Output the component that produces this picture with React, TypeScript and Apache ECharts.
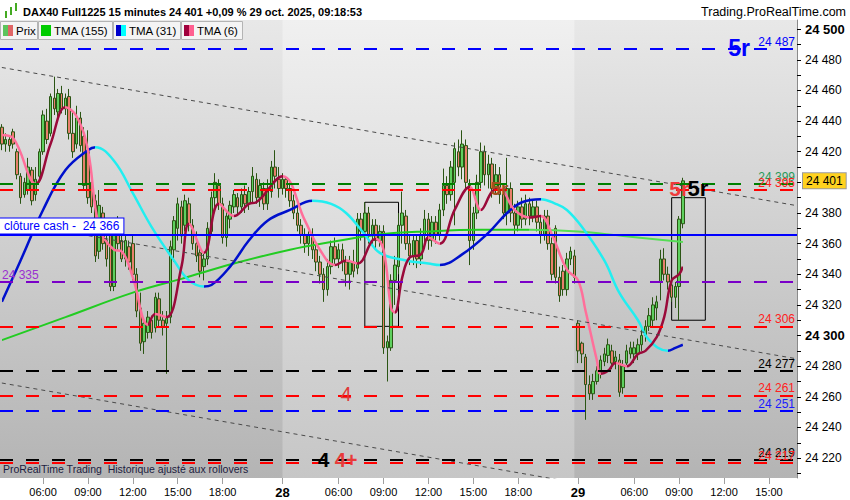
import { useEffect, useRef } from "react";
import * as echarts from "echarts";

// trading sessions (15 min bars)
const sessions = [
  { day: "27", open: "03:15", close: "21:45" },
  { day: "28", open: "02:15", close: "21:45" },
  { day: "29", open: "02:15", close: "16:45" },
];
const timeTicks = ["06:00", "09:00", "12:00", "15:00", "18:00"];

// [open, close, low, high]
const day27 = [
  [24436, 24425, 24421, 24438], [24425, 24428, 24420, 24432], [24428, 24424, 24420, 24430],
  [24433, 24425, 24422, 24435], [24420, 24405, 24402, 24422], [24404, 24390, 24386, 24406],
  [24392, 24400, 24390, 24403], [24395, 24410, 24392, 24416], [24408, 24388, 24385, 24410],
  [24392, 24402, 24388, 24410], [24404, 24420, 24400, 24422], [24420, 24444, 24418, 24447],
  [24440, 24428, 24425, 24448], [24432, 24456, 24430, 24458], [24455, 24448, 24444, 24469],
  [24446, 24458, 24442, 24461], [24458, 24448, 24445, 24463], [24448, 24455, 24444, 24458],
  [24456, 24432, 24428, 24461], [24432, 24420, 24416, 24447], [24425, 24442, 24422, 24450],
  [24442, 24424, 24420, 24446], [24430, 24398, 24395, 24436], [24420, 24390, 24386, 24434],
  [24400, 24384, 24380, 24405], [24388, 24352, 24348, 24392], [24355, 24385, 24350, 24395],
  [24380, 24360, 24356, 24384], [24362, 24350, 24345, 24375], [24368, 24332, 24329, 24372],
  [24332, 24370, 24329, 24373], [24372, 24360, 24356, 24378], [24362, 24350, 24348, 24368],
  [24350, 24362, 24345, 24366], [24358, 24348, 24343, 24362], [24360, 24340, 24336, 24366],
  [24340, 24316, 24312, 24344], [24318, 24295, 24290, 24328], [24296, 24308, 24288, 24312],
  [24302, 24312, 24298, 24316], [24310, 24302, 24298, 24313], [24305, 24325, 24302, 24328],
  [24324, 24310, 24305, 24328], [24310, 24306, 24300, 24316], [24308, 24312, 24275, 24316],
  [24312, 24358, 24308, 24362], [24356, 24375, 24348, 24378], [24370, 24386, 24362, 24390],
  [24384, 24365, 24360, 24388], [24372, 24388, 24368, 24392], [24386, 24372, 24368, 24390],
  [24372, 24360, 24356, 24376], [24360, 24352, 24348, 24368], [24354, 24342, 24338, 24358],
  [24345, 24350, 24336, 24354], [24350, 24370, 24346, 24374], [24368, 24390, 24365, 24394],
  [24390, 24400, 24382, 24406], [24398, 24386, 24382, 24402], [24386, 24364, 24360, 24390],
  [24364, 24378, 24358, 24382], [24376, 24385, 24370, 24388], [24384, 24392, 24380, 24395],
  [24390, 24384, 24378, 24393], [24384, 24392, 24380, 24396], [24392, 24386, 24380, 24398],
  [24386, 24394, 24382, 24397], [24394, 24404, 24386, 24410], [24402, 24390, 24386, 24406],
  [24390, 24398, 24384, 24402], [24396, 24386, 24382, 24400], [24386, 24396, 24382, 24402],
  [24394, 24410, 24390, 24414], [24410, 24404, 24396, 24421], [24402, 24396, 24390, 24410],
];

const day28 = [
  [24396, 24402, 24392, 24406], [24402, 24396, 24390, 24404], [24396, 24388, 24384, 24400],
  [24388, 24380, 24376, 24392], [24380, 24372, 24368, 24384], [24372, 24366, 24360, 24376],
  [24366, 24360, 24354, 24370], [24360, 24366, 24352, 24368], [24366, 24356, 24350, 24370],
  [24356, 24348, 24342, 24360], [24348, 24340, 24334, 24352], [24340, 24330, 24322, 24344],
  [24330, 24345, 24326, 24350], [24345, 24358, 24340, 24362], [24358, 24350, 24346, 24364],
  [24350, 24356, 24344, 24360], [24356, 24348, 24342, 24360], [24348, 24340, 24332, 24352],
  [24340, 24348, 24330, 24352], [24348, 24342, 24338, 24356], [24344, 24376, 24340, 24380],
  [24376, 24368, 24362, 24380], [24368, 24380, 24364, 24387], [24380, 24366, 24360, 24384],
  [24366, 24372, 24358, 24376], [24372, 24362, 24356, 24376], [24362, 24368, 24358, 24372],
  [24368, 24292, 24288, 24372], [24292, 24296, 24270, 24300], [24292, 24336, 24290, 24340],
  [24336, 24346, 24320, 24352], [24345, 24372, 24340, 24380], [24372, 24380, 24360, 24394],
  [24378, 24360, 24356, 24382], [24360, 24352, 24346, 24366], [24352, 24362, 24346, 24366],
  [24362, 24350, 24344, 24366], [24350, 24366, 24346, 24370], [24366, 24376, 24360, 24382],
  [24376, 24362, 24356, 24380], [24362, 24374, 24358, 24378], [24374, 24366, 24360, 24378],
  [24366, 24382, 24362, 24386], [24382, 24398, 24378, 24409], [24398, 24392, 24386, 24404],
  [24392, 24410, 24388, 24414], [24400, 24422, 24372, 24426], [24420, 24410, 24404, 24428],
  [24410, 24425, 24402, 24434], [24424, 24400, 24396, 24428], [24398, 24362, 24346, 24402],
  [24362, 24380, 24356, 24384], [24380, 24400, 24376, 24405], [24400, 24420, 24396, 24426],
  [24420, 24405, 24398, 24424], [24405, 24412, 24396, 24418], [24412, 24396, 24390, 24416],
  [24396, 24405, 24392, 24412], [24405, 24392, 24386, 24410], [24392, 24380, 24376, 24396],
  [24380, 24396, 24372, 24416], [24396, 24380, 24374, 24400], [24380, 24372, 24366, 24386],
  [24372, 24384, 24368, 24388], [24384, 24376, 24370, 24390], [24376, 24386, 24372, 24392],
  [24386, 24378, 24372, 24390], [24378, 24384, 24374, 24388], [24384, 24374, 24368, 24388],
  [24374, 24366, 24360, 24378], [24366, 24378, 24362, 24382], [24378, 24360, 24356, 24382],
  [24360, 24340, 24336, 24364], [24370, 24338, 24334, 24372], [24338, 24326, 24322, 24345],
  [24342, 24330, 24326, 24346], [24330, 24350, 24326, 24354], [24350, 24355, 24346, 24358],
  [24352, 24338, 24334, 24356],
];

const day29 = [
  [24308, 24290, 24282, 24310], [24295, 24288, 24282, 24296], [24286, 24268, 24245, 24288],
  [24268, 24262, 24258, 24274], [24262, 24270, 24258, 24275], [24270, 24277, 24268, 24280],
  [24276, 24284, 24272, 24287], [24283, 24288, 24280, 24292], [24287, 24294, 24282, 24298],
  [24290, 24282, 24278, 24294], [24283, 24286, 24278, 24290], [24284, 24263, 24260, 24288],
  [24266, 24280, 24262, 24284], [24282, 24290, 24280, 24294], [24288, 24292, 24285, 24296],
  [24288, 24292, 24282, 24296], [24288, 24294, 24284, 24298], [24294, 24300, 24290, 24304],
  [24300, 24306, 24296, 24310], [24306, 24313, 24303, 24318], [24310, 24320, 24306, 24325],
  [24318, 24322, 24310, 24326], [24335, 24350, 24323, 24356], [24350, 24340, 24336, 24357],
  [24340, 24335, 24330, 24345], [24333, 24325, 24322, 24336], [24325, 24332, 24318, 24335],
  [24332, 24376, 24310, 24378], [24373, 24401, 24370, 24403],
];

// moving averages, [bar index, value]
const tma155 = [
  [0, 24297], [17, 24312], [35, 24328], [48, 24337], [62, 24347], [77, 24356], [88, 24361],
  [101, 24366], [114, 24368], [128, 24369], [141, 24369], [154, 24368], [166, 24365], [182, 24361],
];
const tma31 = [
  [0, 24322], [5, 24349], [11, 24382], [17, 24408], [23, 24421], [25, 24423], [30, 24414],
  [35, 24393], [40, 24371], [46, 24349], [50, 24336], [54, 24332], [56, 24333], [61, 24345],
  [66, 24362], [71, 24375], [77, 24382], [83, 24388], [88, 24386], [92, 24380], [97, 24366],
  [101, 24354], [108, 24349], [114, 24347], [117, 24346], [123, 24353], [130, 24367], [135, 24380],
  [139, 24387], [144, 24389], [148, 24386], [151, 24382], [155, 24371], [161, 24349], [165, 24328],
  [170, 24310], [173, 24297], [178, 24290], [180, 24292], [182, 24294],
];
const tma6 = [
  [0, 24431], [3, 24429], [9, 24399], [13, 24425], [17, 24449], [20, 24443], [23, 24421],
  [26, 24371], [30, 24356], [32, 24355], [35, 24338], [39, 24307], [41, 24314], [44, 24312],
  [48, 24345], [50, 24373], [54, 24354], [58, 24386], [62, 24378], [66, 24386], [68, 24387],
  [75, 24404], [81, 24375], [85, 24356], [89, 24346], [92, 24349], [95, 24347], [99, 24362],
  [100, 24363], [102, 24356], [104, 24318], [105, 24315], [107, 24338], [109, 24351], [112, 24353],
  [114, 24364], [117, 24360], [121, 24382], [125, 24397], [128, 24382], [131, 24394], [133, 24396],
  [137, 24382], [141, 24377], [144, 24378], [147, 24366], [151, 24343], [154, 24336], [156, 24316],
  [159, 24284], [160, 24275], [162, 24277], [164, 24282], [167, 24280], [170, 24288], [172, 24290],
  [175, 24299], [177, 24312], [179, 24336], [181, 24340], [182, 24345],
];

// horizontal levels
const levelValues = [24487, 24399, 24395, 24335, 24306, 24277, 24261, 24251, 24219, 24217];
const cashClose = 24366;
const lastPrice = 24401;

// dotted channel: value at first bar, value at last slot
const channelLines = [
  [24475, 24385],
  [24375, 24285],
  [24269, 24179],
];

// rectangles: [bar from, top, bar to, bottom]
const boxes = [
  [97, 24387, 106, 24306],
  [179, 24390, 188, 24310],
];

// wave tags: [text, bar index, price]
const waveTags: [string, number, number][] = [
  ["5r", 197, 24488],
  ["5r", 133, 24396],
  ["5r", 181, 24396],
  ["5r", 186, 24396],
  ["4", 92, 24262],
  ["4", 86, 24219],
  ["4+", 92, 24219],
];

const priceLabels = [24220, 24240, 24260, 24280, 24300, 24320, 24340, 24360, 24380, 24420, 24440, 24460, 24480, 24500];

const FONT = "'Liberation Sans', Arial, sans-serif";

const fmtPrice = (v: number) =>
  `${Math.floor(v / 1000)} ${String(Math.round(v) % 1000).padStart(3, "0")}`;

const toMin = (s: string) => {
  const [h, m] = s.split(":").map(Number);
  return h * 60 + m;
};
const hhmm = (m: number) =>
  `${String(Math.floor(m / 60)).padStart(2, "0")}:${String(m % 60).padStart(2, "0")}`;

const slotLabels: string[] = [];
const dayStart = new Map<number, string>();
sessions.forEach((s, k) => {
  if (k > 0) dayStart.set(slotLabels.length, s.day);
  for (let m = toMin(s.open); m <= toMin(s.close); m += 15) slotLabels.push(hhmm(m));
});
const labelAt = (i: number) => dayStart.has(i) || timeTicks.includes(slotLabels[i]);

const slopePieces = (pts: number[][], up: string, down: string) =>
  pts.slice(1).map((p, i) => {
    const prev = pts[i];
    const color = p[1] >= prev[1] ? up : down;
    return i === pts.length - 2
      ? { gte: prev[0], lte: p[0], color }
      : { gte: prev[0], lt: p[0], color };
  });

const levelColors = ["#0000ff", "#008000", "#ff0000", "#7a00c8", "#ff0000", "#000000", "#ff0000", "#0000ff", "#000000", "#ff0000"];
const levelTextColors = ["#0000ff", "#2a9a5a", "#ff2020", "#9a30d0", "#ff2020", "#000000", "#ff2020", "#1a1aff", "#000000", "#ff2020"];
const tagStyles = [
  { color: "#0000ff", fontSize: 23, fontWeight: "bold" },
  { color: "#a0521e", fontSize: 19, fontWeight: "bold" },
  { color: "#ee3a3a", fontSize: 21, fontWeight: "bold" },
  { color: "#000000", fontSize: 22, fontWeight: "bold" },
  { color: "#e03838", fontSize: 20, fontWeight: "normal" },
  { color: "#000000", fontSize: 21, fontWeight: "bold" },
  { color: "#e83a3a", fontSize: 20, fontWeight: "bold" },
];

const legendBoxes = [
  { x: 0, w: 37, text: "Prix", colors: ["#5cc45c", "#e06666"] },
  { x: 38, w: 74, text: "TMA (155)", colors: ["#00cc00", "#00cc00"] },
  { x: 113, w: 67, text: "TMA (31)", colors: ["#0000cc", "#00ffff"] },
  { x: 181, w: 61, text: "TMA (6)", colors: ["#a0003c", "#ff6090"] },
];

const App = () => {
  const chartRef = useRef<HTMLDivElement>(null);

  useEffect(() => {
    if (!chartRef.current) return;
    const chart = echarts.init(chartRef.current, undefined, { renderer: "svg" });

    const candles = [...day27, ...day28, ...day29];
    const lastSlot = slotLabels.length - 1;
    const starts = [...dayStart.keys()];

    const legendGraphics = legendBoxes.map((b) => ({
      type: "group",
      children: [
        {
          type: "rect",
          shape: { x: b.x + 0.5, y: 21.5, width: b.w, height: 18 },
          style: { fill: "#f4f4f4", stroke: "#b4b4b4", lineWidth: 1 },
        },
        {
          type: "rect",
          shape: { x: b.x + 3, y: 25, width: 5, height: 11 },
          style: { fill: b.colors[0] },
        },
        {
          type: "rect",
          shape: { x: b.x + 8, y: 25, width: 5, height: 11 },
          style: { fill: b.colors[1] },
        },
        {
          type: "text",
          x: b.x + 16,
          y: 31,
          style: {
            text: b.text,
            fill: "#000",
            font: `11.5px ${FONT}`,
            verticalAlign: "middle",
          },
        },
      ],
    }));

    // one scatter series per tag, so every tag gets its own label
    const tagSeries = waveTags.map((t, i) => ({
      type: "scatter" as const,
      z: 6,
      silent: true,
      symbol: "rect",
      symbolSize: 1,
      itemStyle: { color: "rgba(0,0,0,0)", opacity: 1 },
      label: {
        show: true,
        position: "inside" as const,
        formatter: t[0],
        fontFamily: FONT,
        ...tagStyles[i],
      },
      labelLayout: { hideOverlap: false },
      data: [[t[1], t[2]]],
    }));

    const option: echarts.EChartsOption = {
      animation: false,
      textStyle: { fontFamily: FONT },
      grid: {
        left: 0,
        right: 53,
        top: 20,
        bottom: 22,
        show: true,
        borderWidth: 0,
        backgroundColor: new echarts.graphic.LinearGradient(0, 0, 0, 1, [
          { offset: 0, color: "#e8e8e8" },
          { offset: 1, color: "#b4b4b4" },
        ]) as unknown as string,
      },
      xAxis: {
        type: "category",
        data: slotLabels,
        boundaryGap: true,
        axisLine: { show: false },
        axisTick: {
          show: true,
          alignWithLabel: true,
          interval: (i: number) => labelAt(i),
          length: 6,
          lineStyle: { color: "#a0a0a0" },
        },
        axisLabel: {
          interval: (i: number) => labelAt(i),
          formatter: (v: string, i: number) =>
            dayStart.has(i) ? `{d|${dayStart.get(i)}}` : v,
          color: "#000",
          fontSize: 11,
          fontFamily: FONT,
          margin: 8,
          rich: { d: { fontWeight: "bold", fontSize: 13, fontFamily: FONT } },
        },
        splitLine: { show: false },
      },
      yAxis: {
        type: "value",
        position: "right",
        min: 24207,
        max: 24506,
        splitLine: { show: false },
        axisLine: { show: true, lineStyle: { color: "#8a8a8a" } },
        axisTick: {
          show: true,
          length: 4,
          customValues: Array.from({ length: 30 }, (_, k) => 24210 + k * 10),
          lineStyle: { color: "#000" },
        },
        axisLabel: {
          customValues: priceLabels,
          formatter: (v: number) =>
            v === 24500 || v === 24300 ? `{b|${fmtPrice(v)}}` : fmtPrice(v),
          color: "#000",
          fontSize: 12,
          fontFamily: FONT,
          rich: { b: { fontWeight: "bold", fontSize: 13, fontFamily: FONT } },
        },
      } as echarts.YAXisComponentOption,
      visualMap: [
        {
          type: "piecewise",
          show: false,
          seriesIndex: 2,
          dimension: 0,
          pieces: slopePieces(tma155, "#22cc22", "#55dd55"),
        },
        {
          type: "piecewise",
          show: false,
          seriesIndex: 3,
          dimension: 0,
          pieces: slopePieces(tma31, "#0010cc", "#22eef0"),
        },
        {
          type: "piecewise",
          show: false,
          seriesIndex: 4,
          dimension: 0,
          pieces: slopePieces(tma6, "#9a0a3a", "#ff6f9a"),
        },
      ],
      graphic: [
        // small candle icon
        { type: "rect", shape: { x: 5, y: 11, width: 2, height: 7 }, style: { fill: "#44aa22" } },
        { type: "rect", shape: { x: 10, y: 7, width: 2, height: 8 }, style: { fill: "#44aa22" } },
        { type: "rect", shape: { x: 15, y: 3, width: 2, height: 8 }, style: { fill: "#44aa22" } },
        {
          type: "text",
          x: 23,
          y: 12,
          style: {
            text: "DAX40 Full1225 15 minutes 24 401 +0,09 % 29 oct. 2025, 09:18:53",
            fill: "#000",
            font: `bold 11px ${FONT}`,
            verticalAlign: "middle",
          },
        },
        {
          type: "text",
          x: 846,
          y: 12,
          style: {
            text: "Trading.ProRealTime.com",
            fill: "#000",
            font: `12.5px ${FONT}`,
            align: "right",
            verticalAlign: "middle",
          },
        },
        ...legendGraphics,
        {
          type: "text",
          x: 3,
          y: 469,
          z: 10,
          style: {
            text: "ProRealTime Trading  Historique ajusté aux rollovers",
            fill: "#1c1c40",
            font: `10.5px ${FONT}`,
            verticalAlign: "middle",
          },
        },
      ] as echarts.GraphicComponentOption[],
      series: [
        {
          type: "line",
          data: [],
          z: 1,
          silent: true,
          markArea: {
            silent: true,
            itemStyle: {
              color: new echarts.graphic.LinearGradient(0, 0, 0, 1, [
                { offset: 0, color: "#f0f0f0" },
                { offset: 1, color: "#c6c6c6" },
              ]),
            },
            data: [[{ xAxis: starts[0] }, { xAxis: starts[1] - 1 }]],
          },
        },
        {
          type: "candlestick",
          data: candles,
          barWidth: 3,
          z: 2,
          itemStyle: {
            color: "#5ed05e",
            color0: "#e8806c",
            borderColor: "#2b5514",
            borderColor0: "#2b5514",
            borderWidth: 1,
          },
        },
        {
          type: "line",
          data: tma155,
          smooth: 0.4,
          showSymbol: false,
          z: 3,
          lineStyle: { width: 2 },
        },
        {
          type: "line",
          data: tma31,
          smooth: 0.4,
          showSymbol: false,
          z: 3,
          lineStyle: { width: 2.5 },
        },
        {
          type: "line",
          data: tma6,
          smooth: 0.4,
          showSymbol: false,
          z: 3,
          lineStyle: { width: 2.5 },
        },
        ...channelLines.map((c) => ({
          type: "line" as const,
          data: [
            [0, c[0]],
            [lastSlot, c[1]],
          ],
          showSymbol: false,
          silent: true,
          z: 3,
          lineStyle: { color: "#4a4a4a", width: 1, type: [4, 4] as number[] },
        })),
        {
          type: "line",
          data: [],
          z: 4,
          clip: false,
          markLine: {
            silent: true,
            symbol: ["none", "none"],
            data: [
              ...levelValues.map((v, i) => ({
                yAxis: v,
                lineStyle: { color: levelColors[i], type: [13, 13], width: 2 },
                label: {
                  show: true,
                  position: v === 24335 ? "insideStartTop" : "insideEndTop",
                  formatter: fmtPrice(v),
                  color: levelTextColors[i],
                  fontSize: 12,
                  fontFamily: FONT,
                  distance: [2, 1],
                },
              })),
              {
                yAxis: cashClose,
                lineStyle: { color: "#0000ff", type: "solid", width: 2 },
                label: {
                  show: true,
                  position: "insideStartTop",
                  formatter: `clôture cash -  ${fmtPrice(cashClose)}`,
                  color: "#0000ff",
                  fontSize: 12,
                  fontFamily: FONT,
                  backgroundColor: "#ffffff",
                  borderColor: "#0000ff",
                  borderWidth: 1,
                  padding: [2, 4, 1, 4],
                  distance: [0, 1],
                },
              },
              {
                yAxis: lastPrice,
                lineStyle: { color: "rgba(0,0,0,0)", width: 1 },
                label: {
                  show: true,
                  position: "end",
                  formatter: fmtPrice(lastPrice),
                  color: "#000",
                  fontSize: 12,
                  fontFamily: FONT,
                  backgroundColor: "#ffd21f",
                  borderColor: "#9a9a9a",
                  borderWidth: 1,
                  padding: [2, 3, 1, 3],
                  distance: 6,
                },
              },
            ],
          },
        },
        {
          type: "line",
          data: [],
          z: 4,
          markArea: {
            silent: true,
            itemStyle: { color: "rgba(0,0,0,0)", borderColor: "#000", borderWidth: 1 },
            data: boxes.map((b) => [
              { coord: [b[0], b[1]] },
              { coord: [b[2], b[3]] },
            ]),
          },
        },
        ...tagSeries,
      ] as echarts.SeriesOption[],
    };

    chart.setOption(option);

    const handleResize = () => chart.resize();
    window.addEventListener("resize", handleResize);

    return () => {
      window.removeEventListener("resize", handleResize);
      chart.dispose();
    };
  }, []);

  return (
    <div
      ref={chartRef}
      style={{ position: "fixed", left: 0, top: 0, width: 850, height: 500, background: "#fff" }}
    />
  );
};

export default App;
